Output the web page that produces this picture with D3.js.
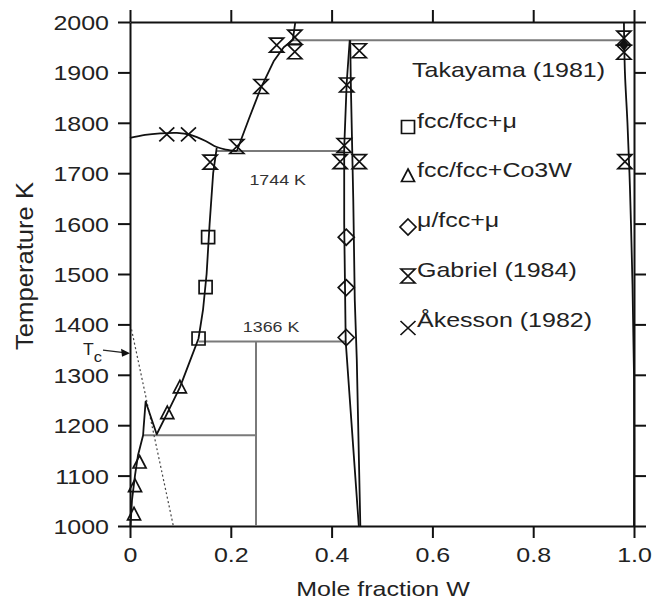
<!DOCTYPE html>
<html><head><meta charset="utf-8">
<script src="https://cdn.jsdelivr.net/npm/d3@7"></script>
<style>body{margin:0;background:#fff}svg{display:block}</style>
</head><body>
<svg id="c" width="667" height="604"></svg>
<script>
// ---------- data ----------
const xTicks = [0, 0.2, 0.4, 0.6, 0.8, 1.0];
const yTicks = [1000,1100,1200,1300,1400,1500,1600,1700,1800,1900,2000];
// phase boundaries [moleFractionW, T]
const liquidusLeft = [[0,1770],[0.03,1776],[0.06,1779],[0.093,1780],[0.12,1776],[0.15,1764],[0.172,1752],[0.19,1747],[0.212,1744]];
const liquidusRight = [[0.212,1744],[0.236,1808],[0.26,1870],[0.285,1922],[0.305,1950],[0.323,1964],[0.328,2000]];
const fccSolvus = [[0.172,1750],[0.165,1700],[0.158,1600],[0.152,1500],[0.145,1430],[0.136,1372],[0.12,1330],[0.099,1275],[0.074,1224],[0.053,1182],[0.031,1247],[0.027,1195],[0.026,1180],[0.016,1141],[0.01,1101],[0.004,1052],[0.001,1000]];
const muLeft = [[0.436,1964],[0.430,1880],[0.425,1750],[0.425,1600],[0.428,1366],[0.454,1000]];
const muRight = [[0.437,1964],[0.438,1885],[0.443,1647],[0.446,1448],[0.450,1329],[0.457,1000]];
const wSolvus = [[0.980,2000],[0.982,1900],[0.987,1800],[0.991,1700],[0.994,1600],[0.997,1480],[1.0,1300],[1.0,1000]];
const tieLines = [
  [[0.172,1744],[0.425,1744]],
  [[0.323,1964],[0.980,1964]],
  [[0.136,1366],[0.428,1366]],
  [[0.026,1180],[0.25,1180]],
  [[0.25,1366],[0.25,1000]]
];
const curieLine = [[0.003,1390],[0.086,1000]];
const tieLabels = [{x:0.293,t:1744,dy:34,label:"1744 K"},{x:0.280,t:1366,dy:-10,label:"1366 K"}];
// experimental points
const takayamaSquares = [[0.155,1573],[0.150,1474],[0.136,1372]];
const takayamaTriangles = [[0.008,1023],[0.010,1079],[0.019,1126],[0.074,1224],[0.099,1275]];
const takayamaDiamonds = [[0.429,1573],[0.429,1473],[0.429,1374]];
const gabriel = [[0.159,1722],[0.212,1753],[0.260,1872],[0.291,1954],[0.327,1970],[0.327,1941],[0.430,1875],[0.425,1755],[0.417,1723],[0.455,1723],[0.455,1943],[0.980,1968],[0.980,1940],[0.982,1723]];
const gabrielFilled = [[0.980,1955]];
const akesson = [[0.073,1777],[0.116,1777]];
const legendItems = [
  {sym:"square", label:"fcc/fcc+μ"},
  {sym:"triangle", label:"fcc/fcc+Co3W"},
  {sym:"diamond", label:"μ/fcc+μ"},
  {sym:"hourglass", label:"Gabriel (1984)"},
  {sym:"cross", label:"Åkesson (1982)"}
];
const legendTitle = "Takayama (1981)";
const xLabel = "Mole fraction W";
const yLabel = "Temperature K";
const tcLabel = ["T","c"];
const tcTemp = 1343;

// ---------- drawing ----------
const svg = d3.select("#c");
const FONT = "'Liberation Sans', Arial, Helvetica, sans-serif";
const SX = 1.19;
const xs = d3.scaleLinear().domain([0,1]).range([130,634]);
const ys = d3.scaleLinear().domain([1000,2000]).range([526,22]);

function txt(g,x,y,str,size,anchor,color){
  const gg = g.append("g").attr("transform",`translate(${x},${y}) scale(${SX},1)`);
  return gg.append("text").attr("font-family",FONT).attr("font-size",size)
    .attr("text-anchor",anchor||"start").attr("fill",color||"#222").text(str);
}

// axes
function styleAxis(g){
  g.selectAll("path.domain").attr("stroke","#111").attr("stroke-width",2);
  g.selectAll(".tick line").attr("stroke","#111").attr("stroke-width",2);
  g.selectAll("text").attr("font-family",FONT).attr("font-size",21).attr("fill","#222");
}
const gB = svg.append("g").attr("transform","translate(0,526)")
  .call(d3.axisBottom(xs).tickValues(xTicks).tickSize(12).tickSizeOuter(0)
    .tickFormat(d=> d===0 ? "0" : d3.format(".1f")(d)));
styleAxis(gB);
gB.selectAll("text").attr("y",36).attr("dy",0).attr("transform",`scale(${SX},1)`);
const gL = svg.append("g").attr("transform","translate(130,0)")
  .call(d3.axisLeft(ys).tickValues(yTicks).tickSize(12).tickSizeOuter(0).tickFormat(d3.format("d")));
styleAxis(gL);
gL.selectAll("text").attr("x",-21/SX).attr("dy","0.36em").attr("transform",`scale(${SX},1)`);
const gT = svg.append("g").attr("transform","translate(0,22)")
  .call(d3.axisTop(xs).tickValues(xTicks).tickSize(12).tickSizeOuter(0).tickFormat(""));
styleAxis(gT);
const gR = svg.append("g").attr("transform","translate(634,0)")
  .call(d3.axisRight(ys).tickValues(yTicks).tickSize(12).tickSizeOuter(0).tickFormat(""));
styleAxis(gR);

// axis titles
txt(svg,383,596,xLabel,21,"middle");
svg.append("text").attr("transform","translate(33,266) rotate(-90) scale(1.22,1.17)")
  .attr("font-family",FONT).attr("font-size",21).attr("text-anchor","middle").attr("fill","#222").text(yLabel);

const line = d3.line().x(d=>xs(d[0])).y(d=>ys(d[1]));
const smooth = d3.line().x(d=>xs(d[0])).y(d=>ys(d[1])).curve(d3.curveCatmullRom.alpha(0.5));
const plot = svg.append("g");

// tie lines (gray)
tieLines.forEach(t=>plot.append("path").attr("d",line(t)).attr("fill","none").attr("stroke","#7a7a7a").attr("stroke-width",2));
// curie line (dotted)
plot.append("path").attr("d",line(curieLine)).attr("fill","none").attr("stroke","#444").attr("stroke-width",1.2).attr("stroke-dasharray","2,2.5");
// phase boundaries
[[liquidusLeft,smooth],[liquidusRight,line],[fccSolvus,line],[muLeft,line],[muRight,line],[wSolvus,smooth]].forEach(([d,f])=>
  plot.append("path").attr("d",f(d)).attr("fill","none").attr("stroke","#111").attr("stroke-width",1.8).attr("stroke-linejoin","round"));

tieLabels.forEach(l=>txt(plot,xs(l.x),ys(l.t)+l.dy,l.label,15,"middle","#333"));

// markers
function sym(type,x,y){
  switch(type){
    case "square": return `M${x-6.5},${y-6.5}h13v13h-13Z`;
    case "triangle": return `M${x},${y-7}L${x+6.5},${y+5.5}L${x-6.5},${y+5.5}Z`;
    case "diamond": return `M${x},${y-8}L${x+8},${y}L${x},${y+8}L${x-8},${y}Z`;
    case "hourglass": return `M${x-7},${y-7}H${x+7}L${x-7},${y+7}H${x+7}Z`;
    case "cross": return `M${x-7.5},${y-7}L${x+7.5},${y+7}M${x+7.5},${y-7}L${x-7.5},${y+7}`;
    case "fdiamond": return `M${x},${y-5}L${x+4},${y}L${x},${y+5}L${x-4},${y}Z`;
  }
}
function drawPts(data,type){
  plot.selectAll(null).data(data).enter().append("path")
    .attr("d",d=>sym(type,xs(d[0]),ys(d[1])))
    .attr("fill", type==="fdiamond" ? "#111" : "none")
    .attr("stroke","#111").attr("stroke-width",1.7).attr("stroke-linejoin","miter");
}
drawPts(takayamaSquares,"square");
drawPts(takayamaTriangles,"triangle");
drawPts(takayamaDiamonds,"diamond");
drawPts(gabriel,"hourglass");
drawPts(gabrielFilled,"fdiamond");
drawPts(akesson,"cross");

// legend
const leg = svg.append("g");
txt(leg,412,77,legendTitle,21,"start");
const legRows = [{my:127,ty:128},{my:176,ty:177},{my:227,ty:227},{my:276,ty:277},{my:328,ty:327}];
legendItems.forEach((it,i)=>{
  leg.append("path").attr("d",sym(it.sym,408,legRows[i].my)).attr("fill","none")
    .attr("stroke","#111").attr("stroke-width",1.7);
  txt(leg,417,legRows[i].ty,it.label,21,"start");
});

// Tc annotation
const tcy = ys(tcTemp);
const tg = svg.append("g");
const tt = tg.append("g").attr("transform",`translate(83,${tcy+2}) scale(1.1,1)`).append("text")
  .attr("font-family",FONT).attr("font-size",16).attr("fill","#222");
tt.append("tspan").text(tcLabel[0]);
tt.append("tspan").attr("dy",7).attr("font-size",15).text(tcLabel[1]);
tg.append("line").attr("x1",103).attr("y1",tcy-3).attr("x2",124).attr("y2",tcy-0.5).attr("stroke","#222").attr("stroke-width",1.2);
tg.append("path").attr("d",`M${xs(0)},${tcy}L${xs(0)-9},${tcy-4.5}L${xs(0)-8},${tcy+3.5}Z`).attr("fill","#111");
</script>
</body></html>
